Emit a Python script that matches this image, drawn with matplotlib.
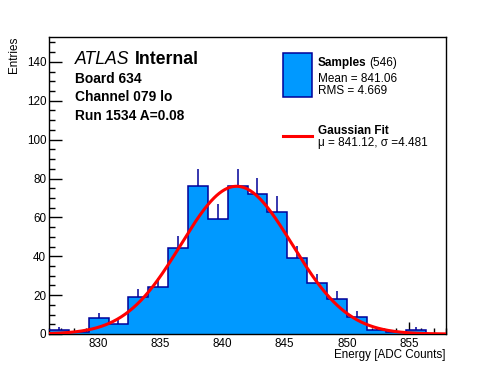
import numpy as np
import matplotlib
matplotlib.use("Agg")
import matplotlib.pyplot as plt
from matplotlib.patches import Rectangle
from matplotlib.lines import Line2D
from matplotlib.ticker import MultipleLocator

# ---- data ----
bin_lo, bin_hi, n_bins = 826.0, 858.0, 20
counts = [2, 1, 8, 5, 19, 24, 44, 76, 59, 76, 72, 63, 39, 26, 18, 9, 2, 1, 2, 0]
fit_mu, fit_sigma, fit_amp = 841.12, 4.481, 76.0
n_entries = 546
mean_val, rms_val = 841.06, 4.669
x_ticks = [830, 835, 840, 845, 850, 855]
y_ticks = [0, 20, 40, 60, 80, 100, 120, 140]

FONT = "Liberation Sans"
plt.rcParams['font.family'] = [FONT, 'DejaVu Sans']

W, H = 496, 372
fig = plt.figure(figsize=(W / 100, H / 100), dpi=100)
ax = fig.add_axes([49 / W, 1 - 334 / H, (446 - 49) / W, (334 - 37) / H])

edges = np.linspace(bin_lo, bin_hi, n_bins + 1)
counts_a = np.array(counts, dtype=float)
centers = 0.5 * (edges[:-1] + edges[1:])

fill_c = "#0099ff"
edge_c = "#000099"

ax.stairs(counts_a, edges, fill=True, color=fill_c, zorder=2)
ax.stairs(counts_a, edges, fill=False, color=edge_c, linewidth=1.1, zorder=3,
          baseline=None)
# error bars (upper part visible above the fill)
nz = counts_a > 0
ax.vlines(centers[nz], counts_a[nz], counts_a[nz] + np.sqrt(counts_a[nz]),
          color=edge_c, linewidth=1.1, zorder=3)

# gaussian fit curve
xs = np.linspace(bin_lo, bin_hi, 600)
ax.plot(xs, fit_amp * np.exp(-0.5 * ((xs - fit_mu) / fit_sigma) ** 2),
        color="#ff0000", linewidth=2.2, zorder=4)

ax.set_xlim(bin_lo, bin_hi)
ax.set_ylim(0, 152.8)
ax.set_xticks(x_ticks)
ax.set_yticks(y_ticks)
ax.xaxis.set_minor_locator(MultipleLocator(1))
ax.yaxis.set_minor_locator(MultipleLocator(5))
ax.tick_params(which='both', direction='in', top=False, right=False,
               labelsize=8.4, width=1.0, color='black')
ax.tick_params(which='major', length=9)
ax.tick_params(which='minor', length=4.5)
ax.tick_params(axis='x', pad=3)
ax.tick_params(axis='y', pad=2)
for s in ax.spines.values():
    s.set_linewidth(1.0)

fig.text(446 / W, 1 - 355 / H, "Energy [ADC Counts]", ha='right', va='center',
         fontsize=8.4)
fig.text(13.5 / W, 1 - 37 / H, "Entries", ha='center', va='top',
         rotation=90, fontsize=8.4)

def ft(x, y, s, **kw):
    return fig.text(x / W, 1 - y / H, s, va='center_baseline', **kw)

# ATLAS label
t = ft(75, 58, "ATLAS", fontsize=12.7, style='italic')
fig.canvas.draw()
bb = t.get_window_extent()
ft(bb.x1 + 5, 58, "Internal", fontsize=12.7, weight='bold')
ft(75, 77.3, "Board 634", fontsize=9.9, weight='bold')
ft(75, 95.7, "Channel 079 lo", fontsize=9.9, weight='bold')
ft(75, 114, "Run 1534 A=0.08", fontsize=9.9, weight='bold')

# legend
fig.add_artist(Rectangle((283.3 / W, 1 - 96.7 / H), (311.7 - 283.3) / W,
                         (96.7 - 53.3) / H, transform=fig.transFigure,
                         facecolor=fill_c, edgecolor=edge_c, linewidth=1.1))
t = ft(318, 61.7, "Samples", fontsize=8.5, weight='bold')
fig.canvas.draw()
bb = t.get_window_extent()
ft(bb.x1 + 3, 61.7, f"({n_entries})", fontsize=8.5)
ft(318, 77.7, f"Mean = {mean_val:.2f}", fontsize=8.5)
ft(318, 90, f"RMS = {rms_val:.3f}", fontsize=8.5)
fig.add_artist(Line2D([283.3 / W, 311.7 / W], [1 - 136 / H, 1 - 136 / H],
                      transform=fig.transFigure, color="#ff0000", linewidth=2.2))
ft(318, 129.3, "Gaussian Fit", fontsize=8.5, weight='bold')
ft(318, 141.7, f"\u03bc = {fit_mu:.2f}, \u03c3 ={fit_sigma:.3f}", fontsize=8.5)

fig.savefig("out.png", dpi=100)
